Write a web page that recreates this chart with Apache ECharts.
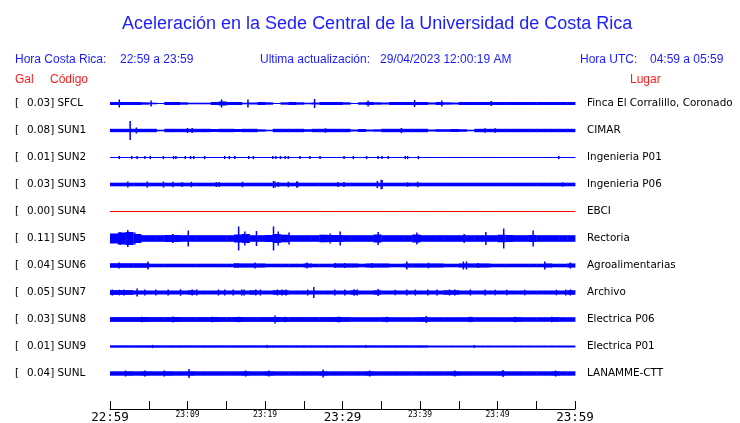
<!DOCTYPE html>
<html>
<head>
<meta charset="utf-8">
<script src="https://cdn.jsdelivr.net/npm/echarts@6/dist/echarts.min.js"></script>
<style>html,body{margin:0;padding:0;background:#fff}#c{width:740px;height:423px}</style>
</head>
<body>
<div id="c"></div>
<script>
// ---------- DATA ----------
const codes  = ['SFCL','SUN1','SUN2','SUN3','SUN4','SUN5','SUN6','SUN7','SUN8','SUN9','SUNL'];
const gal    = [0.03, 0.08, 0.01, 0.03, 0.00, 0.11, 0.04, 0.05, 0.03, 0.01, 0.04];
const places = ['Finca El Corralillo, Coronado','CIMAR','Ingenieria P01','Ingenieria P06','EBCI','Rectoria',
                'Agroalimentarias','Archivo','Electrica P06','Electrica P01','LANAMME-CTT'];
const traceColors = ['#0000ff','#0000ff','#0000ff','#0000ff','#ff0000','#0000ff','#0000ff','#0000ff','#0000ff','#0000ff','#0000ff'];

// x axis: minutes after 22:59
const tickMinutes = [0, 10, 20, 30, 40, 50, 60];
const tickLabels  = ['22:59','23:09','23:19','23:29','23:39','23:49','23:59'];
const tickBig     = [true, false, false, true, false, false, true];

// envelope half-amplitude per minute (px-like relative units), 60 values per station
const env_SFCL = [1.5,1.5,1.5,1.5,1.2,0.8,0.5,1.5,1.5,1.2, 0.8,0.8,0.8,1.5,2,1.5,1.5,0.8,1.0,1.5,
                  1.2,0.5,1.2,1.5,1.2,0.8,1.0,1.5,1.5,1.5, 1.2,0.5,1.2,1.5,1.2,1.0,1.5,1.5,1.5,1.5,
                  1.5,1.0,1.5,1.2,1.0,1.5,1.5,1.5,1.5,1.5, 1.5,1.5,1.5,1.5,1.5,1.5,1.5,1.5,1.5,1.5];
const env_SUN1 = [1.7,1.7,1.7,1.7,1.7,1.7,0.8,1.7,1.7,1.7, 1.7,1.7,1.7,1.5,1.7,1.7,1.5,1.7,1.7,1.2,
                  0.8,1.7,1.7,1.7,1.7,1.3,1.7,1.7,1.7,1.7, 1.7,1.0,1.5,1.0,1.2,1.7,1.7,1.7,1.7,1.7,
                  1.7,1.0,1.3,1.3,1.5,1.3,0.8,1.7,1.7,1.7, 1.7,1.7,1.7,1.7,1.7,1.7,1.7,1.7,1.7,1.7];
const env_SUN2 = [0.5,0.5,0.5,0.5,0.5,0.5,0.5,0.5,0.5,0.5, 0.5,0.5,0.5,0.5,0.5,0.5,0.5,0.5,0.5,0.5,
                  0.5,0.5,0.5,0.5,0.5,0.5,0.5,0.5,0.5,0.5, 0.5,0.5,0.5,0.5,0.5,0.5,0.5,0.5,0.5,0.5,
                  0.5,0.5,0.5,0.5,0.5,0.5,0.5,0.5,0.5,0.5, 0.5,0.5,0.5,0.5,0.5,0.5,0.5,0.5,0.5,0.5];
const env_SUN3 = [1.8,1.8,1.8,1.8,1.8,1.8,1.8,1.8,1.8,1.8, 1.8,1.8,1.8,1.8,1.8,1.8,1.8,1.8,1.8,1.8,
                  1.8,1.8,1.8,1.8,1.8,1.8,1.8,1.8,1.8,1.8, 1.8,1.8,1.8,1.8,1.8,1.8,1.8,1.8,1.8,1.8,
                  1.8,1.8,1.8,1.8,1.8,1.8,1.8,1.8,1.8,1.8, 1.8,1.8,1.8,1.8,1.8,1.8,1.8,1.8,1.8,1.8];
const env_SUN4 = [0.5,0.5,0.5,0.5,0.5,0.5,0.5,0.5,0.5,0.5, 0.5,0.5,0.5,0.5,0.5,0.5,0.5,0.5,0.5,0.5,
                  0.5,0.5,0.5,0.5,0.5,0.5,0.5,0.5,0.5,0.5, 0.5,0.5,0.5,0.5,0.5,0.5,0.5,0.5,0.5,0.5,
                  0.5,0.5,0.5,0.5,0.5,0.5,0.5,0.5,0.5,0.5, 0.5,0.5,0.5,0.5,0.5,0.5,0.5,0.5,0.5,0.5];
const env_SUN5 = [5,6,6.5,4.5,3.3,3.3,3.3,3.5,3.5,3.3, 3.3,3.3,3.3,3.3,3.3,3.3,4,4.5,3.3,3.3,
                  3.5,4.5,3.8,3.3,3.3,3.3,3.3,3.8,3.5,3.5, 3.3,3.3,3.3,3.3,4,3.3,3.3,3.3,3.3,4,
                  3.3,3.3,3.3,3.3,3.3,3.3,3.3,3.3,3.3,3.3, 3.8,3.5,3.3,3.3,3.5,3.3,3.3,3.3,3.3,3.3];
const env_SUN6 = [2.3,2.3,2.3,2.3,2.3,1.8,1.8,1.8,1.8,1.8, 1.8,1.8,1.8,1.8,1.8,1.8,2.1,2.1,2.1,2.1,
                  1.8,1.8,1.8,1.8,1.8,2.1,1.8,1.8,1.8,2.1, 2.1,2.1,1.8,2.1,2.1,2.1,1.8,1.8,2.1,2.1,
                  2.1,2.1,2.1,1.8,1.8,2.1,2.1,2.1,2.1,1.8, 1.8,1.8,1.8,1.8,1.8,1.8,2.1,1.8,1.8,2.1];
const env_SUN7 = [2.4,2.4,2.4,2.0,2.0,2.0,2.0,2.0,2.0,2.0, 2.3,2.0,2.0,2.0,2.0,2.0,2.0,2.0,2.3,2.0,
                  2.0,2.3,2.3,2.0,2.0,2.0,2.0,2.0,2.0,2.0, 2.0,2.3,2.0,2.0,2.3,2.0,2.0,2.0,2.0,2.0,
                  2.0,2.0,2.0,2.3,2.3,2.0,2.0,2.0,2.0,2.0, 2.0,2.0,2.0,2.0,2.0,2.0,2.0,2.0,2.0,2.3];
const env_SUN8 = [2.4,2.4,2.4,2.4,2.5,2.4,2.4,2.4,2.5,2.4, 2.4,2.4,2.4,2.5,2.4,2.4,2.5,2.4,2.4,2.4,
                  2.4,2.5,2.4,2.4,2.4,2.4,2.4,2.4,2.4,2.5, 2.4,2.3,2.3,2.3,2.3,2.4,2.3,2.3,2.3,2.3,
                  2.4,2.3,2.3,2.3,2.3,2.3,2.4,2.3,2.3,2.3, 2.3,2.3,2.4,2.3,2.3,2.3,2.3,2.4,2.3,2.3];
const env_SUN9 = [1.2,1.2,1.2,1.2,1.2,1.2,1.2,1.2,1.2,1.2, 1.2,1.2,1.2,1.2,1.2,1.2,1.2,1.2,1.2,1.2,
                  1.2,1.2,1.2,1.2,1.2,1.2,1.2,1.2,1.2,1.2, 1.2,1.2,1.2,1.2,1.2,1.2,1.2,1.2,1.2,1.2,
                  1.2,1.0,1.0,1.0,1.0,1.0,1.0,1.0,1.0,1.0, 1.0,1.0,1.0,1.0,1.0,1.0,1.0,1.0,1.0,1.0];
const env_SUNL = [2.2,2.2,2.3,2.2,2.3,2.2,2.2,2.3,2.2,2.2, 2.3,2.2,2.2,2.2,2.2,2.2,2.2,2.3,2.2,2.2,
                  2.3,2.2,2.2,2.2,2.2,2.2,2.2,2.3,2.2,2.2, 2.2,2.2,2.2,2.3,2.2,2.2,2.2,2.2,2.2,2.2,
                  2.2,2.2,2.2,2.2,2.3,2.2,2.2,2.2,2.2,2.2, 2.3,2.2,2.2,2.2,2.2,2.2,2.2,2.3,2.2,2.2];

// spikes: [minute, half-amplitude]
const spk_SFCL = [[1.2,4],[5.3,3],[14.4,4],[17.8,4],[26.4,4.5],[33.3,3],[39.3,3.5],[42.8,3],[49.2,2.5]];
const spk_SUN1 = [[2.6,9.5],[3.4,3],[10.0,2.5],[10.6,2.5],[27.8,2.2],[37.6,2.5],[48.4,2.3],[49.7,2.2]];
const spk_SUN2 = [[1.2,1.6],[2.8,1.6],[3.5,1.6],[4.5,1.6],[5.2,1.6],[6.9,1.6],[8.2,1.6],[8.5,1.6],[9.7,1.6],[10.4,1.6],
                  [10.8,1.6],[12.2,1.6],[14.8,1.6],[15.4,1.6],[16.1,1.6],[17.9,1.6],[18.5,1.6],[21.0,1.6],[21.4,1.6],[22.0,1.6],
                  [22.6,1.6],[23.0,1.6],[24.5,1.6],[25.8,1.6],[27.1,1.6],[30.2,1.6],[31.4,1.6],[33.1,1.6],[34.6,1.6],[35.1,1.6],
                  [35.9,1.6],[38.1,1.6],[38.4,1.6],[39.8,1.6],[57.9,1.6]];
const spk_SUN3 = [[2.3,3],[4.8,3],[6.9,3],[8.1,2.8],[9.3,2.5],[10.5,2.7],[13.7,2.5],[14.1,2.5],[17.1,2.7],[21.1,3.5],
                  [21.3,3],[21.7,2.5],[23.0,2.7],[24.1,3],[24.2,3],[29.4,2.5],[30.2,2.5],[34.5,3.5],[35.0,4.7],[35.1,4.5],
                  [38.4,2.3],[39.7,2.8],[58.4,2.2]];
const spk_SUN4 = [];
const spk_SUN5 = [[1.3,6.5],[2.3,8.5],[3.2,6],[8.1,4.5],[10.1,8],[16.6,12],[17.4,7],[18.9,7.5],[21.1,12],[21.7,7],
                  [23.1,6],[28.4,5],[29.7,7],[34.6,6.5],[39.6,6],[45.7,4.5],[48.5,6.5],[50.8,10],[54.6,8]];
const spk_SUN6 = [[1.2,3],[4.9,4],[16.1,2.5],[16.5,2.5],[18.7,3],[25.4,3],[29.0,2.5],[30.3,2.5],[33.8,2.5],[38.3,4],
                  [41.1,2.8],[45.6,4],[46.0,4],[47.5,2.5],[56.1,4],[59.4,3]];
const spk_SUN7 = [[0.3,3],[1.2,2.8],[1.8,3],[3.5,4],[4.5,3],[5.9,3],[7.5,3],[9.1,3.2],[10.6,3],[11.2,3],
                  [14.0,3],[14.8,3],[15.9,3],[17.0,3],[17.3,3],[18.8,3],[19.4,3],[21.6,3],[22.2,3],[22.7,3],
                  [25.5,3],[26.3,5.5],[29.0,3],[30.3,3],[31.5,3.2],[31.9,3],[34.6,3.5],[36.8,2.8],[38.3,3],[39.4,3],
                  [41.0,3],[42.2,3],[43.8,3],[44.5,3],[46.5,3],[48.4,3],[49.7,2.8],[51.2,2.8],[53.5,2.8],[57.6,2.8],
                  [58.8,3],[59.4,3]];
const spk_SUN8 = [[4.1,2.8],[8.1,3],[13.2,2.8],[16.6,2.8],[21.3,4],[22.6,2.8],[29.5,3],[35.7,2.8],[40.8,3.5],[46.5,2.8],
                  [52.3,2.8],[57.0,2.8]];
const spk_SUN9 = [[5.5,1.6],[20.3,1.6],[33.0,1.6],[47.0,1.5]];
const spk_SUNL = [[2.0,3],[4.5,3],[7.0,3],[10.2,4.5],[17.5,3],[20.5,3],[27.5,4],[33.5,3],[44.5,3],[50.7,3.5],[57.5,3]];

const envelopes = [env_SFCL, env_SUN1, env_SUN2, env_SUN3, env_SUN4, env_SUN5, env_SUN6, env_SUN7, env_SUN8, env_SUN9, env_SUNL];
const spikes    = [spk_SFCL, spk_SUN1, spk_SUN2, spk_SUN3, spk_SUN4, spk_SUN5, spk_SUN6, spk_SUN7, spk_SUN8, spk_SUN9, spk_SUNL];

// ---------- CHART ----------
const ROW = 27;                 // value units per station row
const NROWS = codes.length;
const rowCenter = i => ROW * (i + 0.5);

const envData = [], spkData = [];
envelopes.forEach((arr, r) => arr.forEach((a, m) => envData.push([m, r, a])));
spikes.forEach((arr, r) => arr.forEach(s => spkData.push([s[0], r, s[1]])));

const BLUE = '#1c1cff', RED = '#ff1c1c';
const hdr = '12px "Liberation Sans"';
const chart = echarts.init(document.getElementById('c'), null, {renderer: 'canvas'});
chart.setOption({
  animation: false,
  backgroundColor: '#fff',
  title: {
    text: 'Aceleración en la Sede Central de la Universidad de Costa Rica',
    left: 117, top: 10,
    textStyle: {fontFamily: 'Liberation Sans', fontSize: 18, fontWeight: 'normal', color: BLUE}
  },
  graphic: [
    {type: 'text', left: 15, top: 54, style: {text: 'Hora Costa Rica:', font: hdr, fill: BLUE}},
    {type: 'text', left: 120, top: 54, style: {text: '22:59 a 23:59', font: hdr, fill: BLUE}},
    {type: 'text', left: 260, top: 54, style: {text: 'Ultima actualización:', font: hdr, fill: BLUE}},
    {type: 'text', left: 380, top: 54, style: {text: '29/04/2023 12:00:19 AM', font: hdr, fill: BLUE}},
    {type: 'text', left: 580, top: 54, style: {text: 'Hora UTC:', font: hdr, fill: BLUE}},
    {type: 'text', left: 650, top: 54, style: {text: '04:59 a 05:59', font: hdr, fill: BLUE}},
    {type: 'text', left: 15, top: 74, style: {text: 'Gal', font: hdr, fill: RED}},
    {type: 'text', left: 50, top: 74, style: {text: 'Código', font: hdr, fill: RED}},
    {type: 'text', left: 630, top: 74, style: {text: 'Lugar', font: hdr, fill: RED}}
  ],
  grid: {left: 110, right: 165, top: 90, height: ROW * NROWS, containLabel: false, outerBoundsMode: 'none'},
  xAxis: {
    type: 'value', min: 0, max: 60, interval: 5, offset: 22,
    axisLine: {show: true, onZero: false, lineStyle: {color: '#000', width: 1}},
    axisTick: {show: true, inside: true, length: 8, lineStyle: {color: '#000', width: 1}},
    splitLine: {show: false},
    axisLabel: {
      margin: 2, showMinLabel: true, showMaxLabel: true, hideOverlap: false,
      formatter: v => {
        const i = tickMinutes.indexOf(v);
        if (i < 0) return '';
        return '{' + (tickBig[i] ? 'b' : 's') + '|' + tickLabels[i] + '}';
      },
      rich: {
        b: {fontFamily: 'DejaVu Sans Mono', fontSize: 12.5, color: '#000'},
        s: {fontFamily: 'DejaVu Sans Mono', fontSize: 8, color: '#000'}
      }
    }
  },
  yAxis: [
    {type: 'value', min: 0, max: ROW * NROWS, inverse: true, show: false},
    {type: 'category', data: codes, inverse: true, position: 'left',
     axisLine: {show: false}, axisTick: {show: false}, splitLine: {show: false},
     axisLabel: {align: 'left', margin: 95, color: '#000',
                 formatter: (v, i) => '{br|[}{t|' + gal[i].toFixed(2) + '] ' + v + '}',
                 rich: {
                   br: {fontFamily: 'DejaVu Sans', fontSize: 10.4, color: '#000', width: 12},
                   t:  {fontFamily: 'DejaVu Sans', fontSize: 10.4, color: '#000'}
                 }}},
    {type: 'category', data: places, inverse: true, position: 'right',
     axisLine: {show: false}, axisTick: {show: false}, splitLine: {show: false},
     axisLabel: {margin: 12, fontFamily: 'DejaVu Sans', fontSize: 10.4, color: '#000'}}
  ],
  series: [
    {
      type: 'custom', name: 'envelope', xAxisIndex: 0, yAxisIndex: 0, silent: true,
      data: envData,
      renderItem: (params, api) => {
        const m = api.value(0), r = api.value(1), a = api.value(2);
        const c = rowCenter(r);
        const p0 = api.coord([m, c - a]);
        const p1 = api.coord([m + 1, c + a]);
        return {type: 'rect', shape: {x: p0[0], y: p0[1], width: p1[0] - p0[0] + 0.4, height: p1[1] - p0[1]},
                style: {fill: traceColors[r]}};
      }
    },
    {
      type: 'custom', name: 'spikes', xAxisIndex: 0, yAxisIndex: 0, silent: true,
      data: spkData,
      renderItem: (params, api) => {
        const m = api.value(0), r = api.value(1), a = api.value(2);
        const c = rowCenter(r);
        const p0 = api.coord([m, c - a]);
        const p1 = api.coord([m, c + a]);
        return {type: 'rect', shape: {x: p0[0] - 0.75, y: p0[1], width: 1.5, height: p1[1] - p0[1]},
                style: {fill: traceColors[r]}};
      }
    }
  ]
});
</script>
</body>
</html>
